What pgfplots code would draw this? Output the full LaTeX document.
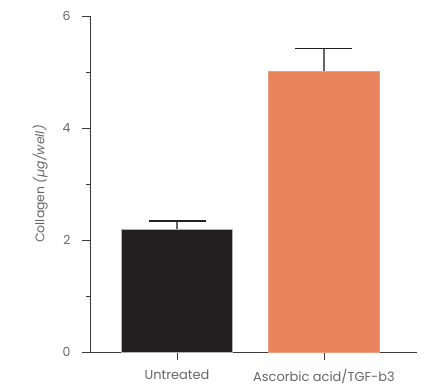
\documentclass[border=0pt]{standalone}
\usepackage{pgfplots}
\pgfplotsset{compat=1.18}
\usepackage{fontspec}
\setmainfont{Poppins}
\definecolor{barblack}{HTML}{231F20}
\definecolor{barorange}{HTML}{EA845F}
\definecolor{axisgray}{HTML}{3A3A3A}
\definecolor{textgray}{HTML}{666666}
\begin{document}
\begin{tikzpicture}
\useasboundingbox (-90bp,-33bp) rectangle (334bp,352bp);
\begin{axis}[
  scale only axis,
  width=327bp, height=336bp,
  xmin=-0.592, xmax=1.633,
  ymin=0, ymax=6,
  axis lines*=left,
  axis line style={draw=axisgray, line width=0.9bp},
  every tick/.style={draw=axisgray, line width=0.9bp},
  ytick={0,2,4,6},
  minor ytick={1,3,5},
  xtick={0,1},
  xticklabels={Untreated, Ascorbic acid/TGF-b3},
  tick align=outside,
  major tick length=8bp,
  minor tick length=4bp,
  tick label style={font=\fontsize{12.5}{14}\selectfont, text=textgray},
  xticklabel style={font=\fontsize{13}{14}\selectfont, yshift=-6bp},
  /pgf/number format/assume math mode=true,
  yticklabel style={xshift=-8bp},
  ylabel={Collagen \textit{(µg/well)}},
  ylabel style={font=\fontsize{12.5}{14}\selectfont, text=textgray, yshift=8bp},
  ybar, bar width=111bp, bar shift=0pt,
  clip=false,
]
\addplot[fill=barblack, draw=gray!60, line width=0.5bp,
  error bars/.cd, y dir=plus, y explicit,
  error bar style={draw=gray!80!black, line width=1.2bp},
  error mark options={rotate=90, mark size=28.5bp, line width=1.2bp, draw=barblack}]
  coordinates {(0,2.19) +- (0,0.15)};
\addplot[fill=barorange, draw=barorange!80!white, line width=0.5bp,
  error bars/.cd, y dir=plus, y explicit,
  error bar style={draw=gray!80!black, line width=1.2bp},
  error mark options={rotate=90, mark size=28.5bp, line width=1.2bp, draw=barblack}]
  coordinates {(1,5.01) +- (0,0.41)};
\end{axis}
\end{tikzpicture}
\end{document}
